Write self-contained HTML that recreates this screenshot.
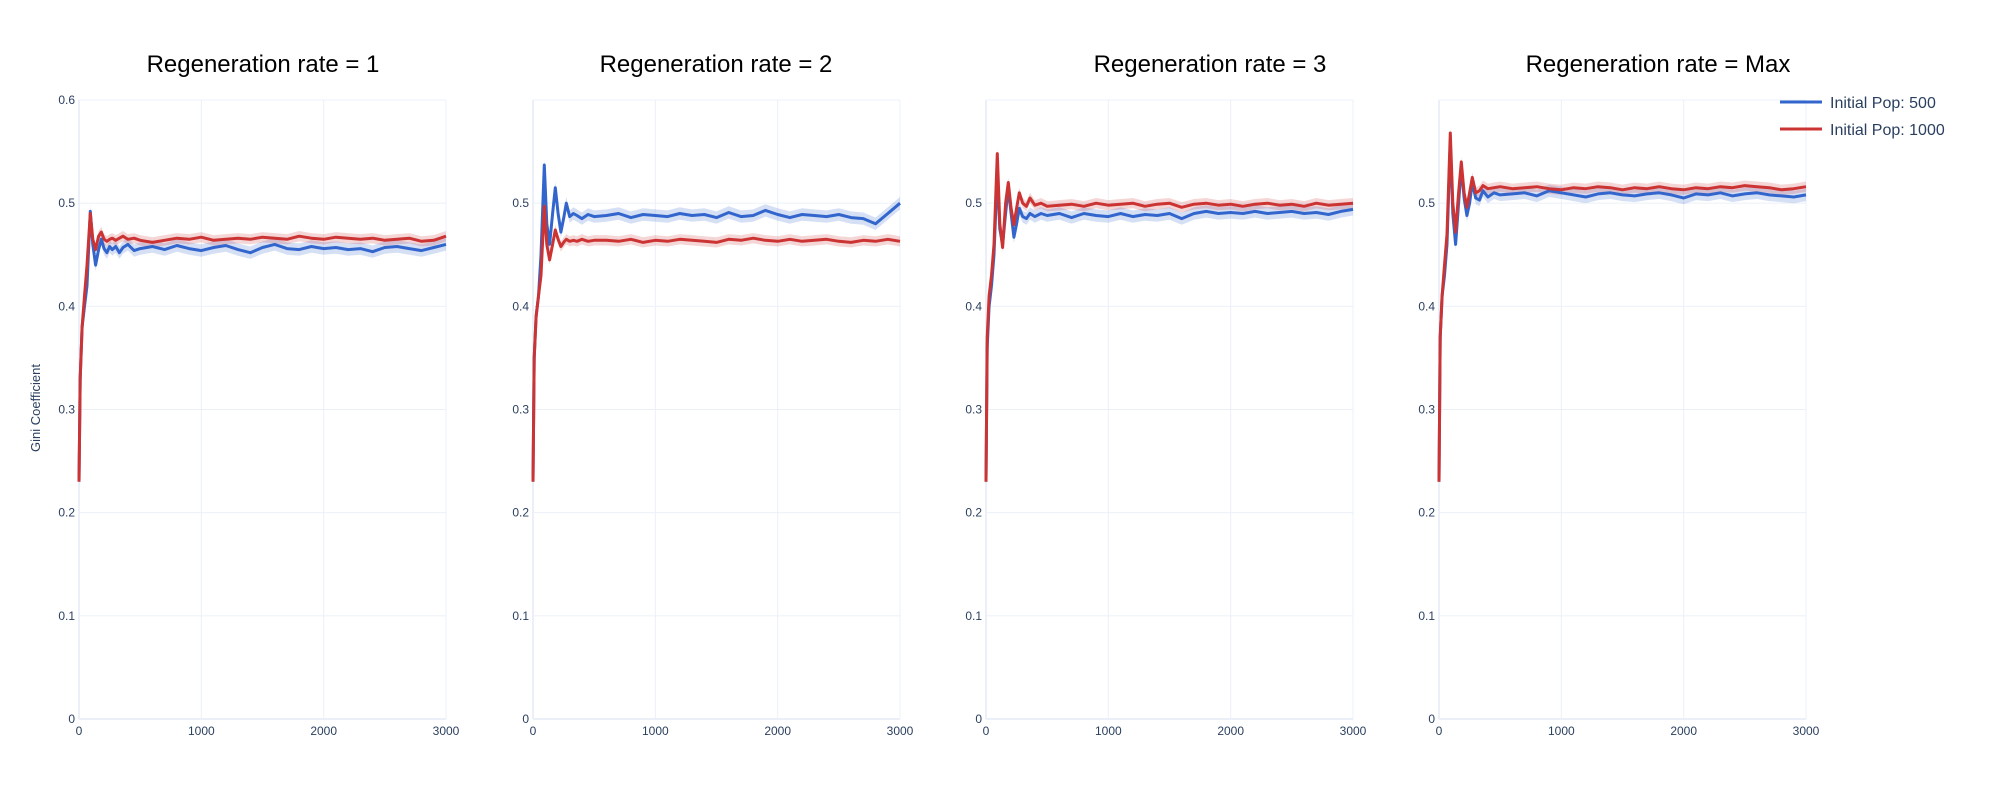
<!DOCTYPE html>
<html><head><meta charset="utf-8"><style>
body{margin:0;background:#fff;}
svg{display:block;font-family:"Liberation Sans",sans-serif;}
</style></head><body>
<svg id="chart" width="2000" height="800" xmlns="http://www.w3.org/2000/svg"></svg>
<script>
const xs=[0,10,25,45,65,92,113,136,160,182,205,228,250,272,300,330,360,400,450,500,600,700,800,900,1000,1100,1200,1300,1400,1500,1600,1700,1800,1900,2000,2100,2200,2300,2400,2500,2600,2700,2800,2900,3000];
const titles=["Regeneration rate = 1","Regeneration rate = 2","Regeneration rate = 3","Regeneration rate = Max"];
const seriesNames=["Initial Pop: 500","Initial Pop: 1000"];
const yTicks=[0,0.1,0.2,0.3,0.4,0.5,0.6];
const yTickLabels=["0","0.1","0.2","0.3","0.4","0.5","0.6"];
const xTicks=[0,1000,2000,3000];
const bandHalf=[0.006,0.005];
const p1Blue=[0.23,0.33,0.38,0.40,0.42,0.492,0.46,0.44,0.455,0.465,0.456,0.452,0.458,0.455,0.458,0.452,0.457,0.46,0.454,0.456,0.458,0.455,0.459,0.456,0.454,0.457,0.459,0.455,0.452,0.457,0.46,0.456,0.455,0.458,0.456,0.457,0.455,0.456,0.453,0.457,0.458,0.456,0.454,0.457,0.46];
const p1Red=[0.23,0.33,0.38,0.41,0.44,0.49,0.465,0.455,0.468,0.472,0.465,0.463,0.465,0.466,0.464,0.466,0.468,0.465,0.466,0.464,0.462,0.464,0.466,0.465,0.467,0.464,0.465,0.466,0.465,0.467,0.466,0.465,0.468,0.466,0.465,0.467,0.466,0.465,0.466,0.464,0.465,0.466,0.463,0.464,0.468];
const p2Blue=[0.23,0.35,0.39,0.41,0.45,0.537,0.48,0.46,0.49,0.515,0.49,0.472,0.485,0.5,0.487,0.49,0.488,0.485,0.489,0.487,0.488,0.49,0.486,0.489,0.488,0.487,0.49,0.488,0.489,0.486,0.491,0.487,0.488,0.493,0.489,0.486,0.489,0.488,0.487,0.489,0.486,0.485,0.48,0.49,0.5];
const p2Red=[0.23,0.35,0.39,0.41,0.43,0.497,0.46,0.445,0.46,0.474,0.465,0.458,0.462,0.465,0.463,0.464,0.463,0.465,0.463,0.464,0.464,0.463,0.465,0.462,0.464,0.463,0.465,0.464,0.463,0.462,0.465,0.464,0.466,0.464,0.463,0.465,0.463,0.464,0.465,0.463,0.462,0.464,0.463,0.465,0.463];
const p3Blue=[0.23,0.36,0.40,0.42,0.45,0.53,0.475,0.46,0.49,0.515,0.49,0.467,0.48,0.495,0.487,0.485,0.49,0.487,0.49,0.488,0.49,0.486,0.49,0.488,0.487,0.49,0.487,0.489,0.488,0.49,0.485,0.49,0.492,0.49,0.491,0.49,0.492,0.49,0.491,0.492,0.49,0.491,0.489,0.492,0.494];
const p3Red=[0.23,0.37,0.41,0.43,0.46,0.548,0.48,0.457,0.5,0.52,0.495,0.479,0.495,0.51,0.5,0.497,0.505,0.498,0.5,0.497,0.498,0.499,0.497,0.5,0.498,0.499,0.5,0.497,0.499,0.5,0.496,0.499,0.5,0.498,0.499,0.497,0.499,0.5,0.498,0.499,0.497,0.5,0.498,0.499,0.5];
const p4Blue=[0.23,0.37,0.41,0.43,0.46,0.56,0.49,0.46,0.5,0.535,0.505,0.488,0.5,0.52,0.505,0.503,0.512,0.506,0.51,0.508,0.509,0.51,0.507,0.512,0.51,0.508,0.506,0.509,0.51,0.508,0.507,0.509,0.51,0.508,0.505,0.509,0.508,0.51,0.507,0.509,0.51,0.508,0.507,0.506,0.508];
const p4Red=[0.23,0.37,0.41,0.44,0.47,0.568,0.5,0.472,0.51,0.54,0.51,0.496,0.51,0.525,0.51,0.512,0.517,0.514,0.515,0.516,0.514,0.515,0.516,0.514,0.513,0.515,0.514,0.516,0.515,0.513,0.515,0.514,0.516,0.514,0.513,0.515,0.514,0.516,0.515,0.517,0.516,0.515,0.513,0.514,0.516];
const panelData=[[p1Blue,p1Red],[p2Blue,p2Red],[p3Blue,p3Red],[p4Blue,p4Red]];

const NS="http://www.w3.org/2000/svg";
const svg=document.getElementById('chart');
const panelLeft=[79,533,986,1439], panelW=367, y0px=719, yTop=100;
const titleX=[263,716,1210,1658];
const colors=["#3366cc","#cc3333"], bandColors=["rgba(51,102,204,0.2)","rgba(204,51,51,0.2)"];
function mk(tag,attrs,parent){const e=document.createElementNS(NS,tag);for(const k in attrs)e.setAttribute(k,attrs[k]);(parent||svg).appendChild(e);return e;}
function yScale(v){return y0px-(v/0.6)*(y0px-yTop);}
panelLeft.forEach((L,p)=>{
  const xScale=v=>L+v/3000*panelW;
  const g=mk('g',{});
  
  
  const t=mk('text',{x:titleX[p],y:72,'text-anchor':'middle','font-size':24,fill:'#000'},g);
  t.textContent=titles[p];
  
  
  yTicks.forEach((v,i)=>{
    const gl=mk('line',{x1:L,x2:L+panelW,y1:yScale(v),y2:yScale(v),stroke:'#ebf0f8','stroke-width':v===0?2:1},g);
    
    
    if(p>0&&v===0.6)return;
    const tl=mk('text',{x:L-4,y:yScale(v)+4,'text-anchor':'end','font-size':12,fill:'#2a3f5f'},g);
    tl.textContent=yTickLabels[i];
    
    
  });
  xTicks.forEach(v=>{
    const gl=mk('line',{x1:xScale(v),x2:xScale(v),y1:yTop,y2:y0px,stroke:'#ebf0f8','stroke-width':v===0?2:1},g);
    
    
    const tl=mk('text',{x:xScale(v),y:735,'text-anchor':'middle','font-size':12,fill:'#2a3f5f'},g);
    tl.textContent=String(v);
    
    
  });
  panelData[p].forEach((ser,s)=>{
    let up='',dn='';
    ser.forEach((v,i)=>{up+=(i?'L':'M')+xScale(xs[i]).toFixed(1)+','+yScale(v+bandHalf[s]).toFixed(1);});
    for(let i=ser.length-1;i>=0;i--){dn+='L'+xScale(xs[i]).toFixed(1)+','+yScale(ser[i]-bandHalf[s]).toFixed(1);}
    const b=mk('path',{d:up+dn+'Z',fill:bandColors[s],stroke:'none'},g);
    
    
  });
  panelData[p].forEach((ser,s)=>{
    const d=ser.map((v,i)=>(i?'L':'M')+xScale(xs[i]).toFixed(1)+','+yScale(v).toFixed(1)).join('');
    const l=mk('path',{d:d,fill:'none',stroke:colors[s],'stroke-width':3,'stroke-linejoin':'round'},g);
    
    
  });
});
const yt=mk('text',{x:40,y:408,'text-anchor':'middle','font-size':13,fill:'#2a3f5f',transform:'rotate(-90 40 408)'});
yt.textContent='Gini Coefficient';


seriesNames.forEach((n,i)=>{
  const lg=mk('g',{});
  
  
  mk('line',{x1:1780,x2:1822,y1:102+27*i,y2:102+27*i,stroke:colors[i],'stroke-width':3},lg);
  const tx=mk('text',{x:1830,y:108+27*i,'font-size':16,fill:'#2a3f5f'},lg);
  tx.textContent=n;
});
</script>
</body></html>
